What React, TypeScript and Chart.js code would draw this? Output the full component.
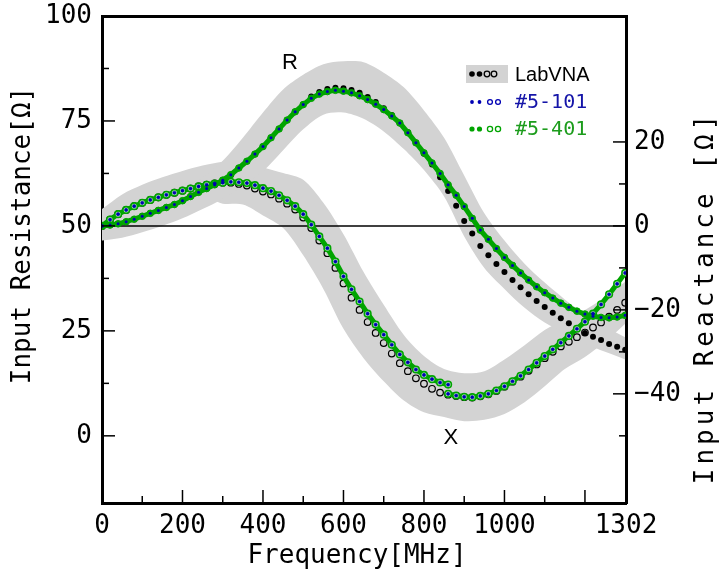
import React, { useEffect, useRef } from 'react';
import { Chart, registerables } from 'chart.js';

Chart.register(...registerables);

// ---- data ----
const freq = [0, 20, 40, 60, 80, 100, 120, 140, 160, 180, 200, 220, 240, 260, 280, 300, 320, 340, 360, 380, 400, 420, 440, 460, 480, 500, 520, 540, 560, 580, 600, 620, 640, 660, 680, 700, 720, 740, 760, 780, 800, 820, 840, 860, 880, 900, 920, 940, 960, 980, 1000, 1020, 1040, 1060, 1080, 1100, 1120, 1140, 1160, 1180, 1200, 1220, 1240, 1260, 1280, 1300];

// Input resistance [Ohm]
const rLab = [50.0, 50.2, 50.5, 51.0, 51.6, 52.3, 53.0, 53.7, 54.4, 55.1, 56.0, 57.0, 58.0, 58.9, 59.8, 60.9, 62.2, 63.8, 65.4, 67.1, 68.9, 71.0, 73.1, 75.2, 77.2, 78.9, 80.8, 81.9, 82.6, 82.9, 82.8, 82.4, 81.7, 80.7, 79.5, 78.0, 76.4, 74.6, 72.3, 69.8, 67.2, 64.6, 61.6, 58.3, 54.8, 51.2, 48.2, 45.2, 43.0, 40.9, 39.0, 37.1, 35.4, 33.7, 32.1, 30.7, 29.3, 28.0, 26.8, 25.6, 24.5, 23.6, 22.8, 21.9, 21.2, 20.5];
const r101 = [50.0, 50.2, 50.5, 51.0, 51.6, 52.3, 53.0, 53.7, 54.4, 55.1, 56.0, 57.0, 58.0, 58.9, 59.8, 60.9, 62.2, 63.8, 65.4, 67.1, 68.9, 71.0, 73.1, 75.2, 77.2, 78.9, 80.4, 81.4, 82.0, 82.3, 82.1, 81.7, 81.0, 80.1, 79.0, 77.7, 76.2, 74.5, 72.2, 69.8, 67.4, 65.0, 62.5, 59.8, 57.3, 54.6, 51.8, 49.0, 46.8, 44.6, 42.5, 40.6, 38.8, 37.1, 35.5, 34.1, 32.8, 31.6, 30.6, 29.7, 29.0, 28.5, 28.2, 28.1, 28.3, 28.7];
const r401 = [50.0, 50.2, 50.5, 51.0, 51.6, 52.3, 53.0, 53.7, 54.4, 55.1, 56.0, 57.0, 58.0, 58.9, 59.8, 60.9, 62.2, 63.8, 65.4, 67.1, 68.9, 71.0, 73.1, 75.2, 77.2, 78.9, 80.4, 81.4, 82.0, 82.3, 82.1, 81.7, 81.0, 80.1, 79.0, 77.7, 76.2, 74.5, 72.2, 69.8, 67.4, 65.0, 62.5, 59.8, 57.3, 54.6, 51.8, 49.0, 46.8, 44.6, 42.5, 40.6, 38.8, 37.1, 35.5, 34.1, 32.8, 31.6, 30.6, 29.7, 29.0, 28.5, 28.2, 28.1, 28.3, 28.7];

// Input reactance [Ohm]
const xLab = [0.0, 1.5, 2.8, 3.8, 4.7, 5.5, 6.2, 6.8, 7.4, 7.9, 8.4, 8.9, 9.4, 9.8, 10.1, 10.3, 10.3, 10.0, 9.6, 8.9, 8.2, 7.5, 6.5, 5.3, 3.9, 2.0, -0.5, -3.5, -6.5, -10.0, -13.7, -17.1, -20.0, -22.9, -25.5, -27.9, -30.4, -32.7, -34.6, -36.3, -37.6, -38.8, -39.7, -40.2, -40.5, -40.8, -40.9, -40.6, -40.1, -39.3, -38.3, -37.1, -35.9, -34.5, -33.0, -31.5, -30.0, -28.7, -27.6, -26.5, -25.4, -24.2, -23.0, -21.6, -20.0, -18.3];
// devices: first sweep (0..860 MHz) and second sweep (860..1300 MHz)
const x101Low = [0.0, 1.5, 2.8, 3.8, 4.7, 5.5, 6.2, 6.8, 7.4, 7.9, 8.4, 8.9, 9.4, 9.8, 10.1, 10.3, 10.5, 10.4, 10.2, 9.7, 9.0, 8.3, 7.3, 6.1, 4.7, 2.8, 0.3, -2.5, -5.3, -8.5, -12.0, -15.1, -18.0, -20.9, -23.5, -25.9, -28.3, -30.6, -32.5, -34.2, -35.5, -36.5, -37.3, -37.8];
const x101High = [-40.0, -40.4, -40.7, -40.8, -40.5, -40.0, -39.2, -38.2, -37.0, -35.7, -34.2, -32.6, -31.0, -29.4, -27.8, -26.2, -24.5, -22.8, -20.9, -18.7, -16.3, -13.8, -11.2];
const x401Low = [0.0, 1.5, 2.8, 3.8, 4.7, 5.5, 6.2, 6.8, 7.4, 7.9, 8.4, 8.9, 9.4, 9.8, 10.1, 10.3, 10.5, 10.4, 10.2, 9.7, 9.0, 8.3, 7.3, 6.1, 4.7, 2.8, 0.3, -2.5, -5.3, -8.5, -12.0, -15.1, -18.0, -20.9, -23.5, -25.9, -28.3, -30.6, -32.5, -34.2, -35.5, -36.5, -37.3, -37.8];
const x401High = [-40.0, -40.4, -40.7, -40.8, -40.5, -40.0, -39.2, -38.2, -37.0, -35.7, -34.2, -32.6, -31.0, -29.4, -27.8, -26.2, -24.5, -22.8, -20.9, -18.7, -16.3, -13.8, -11.2];

// LabVNA uncertainty bands
const bandFreq = [0, 50, 100, 150, 200, 250, 300, 350, 400, 450, 500, 550, 600, 650, 700, 750, 800, 850, 900, 950, 1000, 1050, 1100, 1150, 1200, 1250, 1300];
const rBandHi = [52.0, 52.5, 54.0, 56.0, 58.5, 61.5, 65.5, 71.0, 77.0, 82.5, 86.0, 88.5, 89.2, 89.0, 86.5, 83.0, 77.5, 71.0, 62.0, 53.0, 46.5, 41.0, 36.5, 32.5, 29.0, 26.0, 23.5];
const rBandLo = [46.5, 47.2, 48.5, 50.0, 51.8, 54.0, 56.5, 59.5, 63.0, 68.0, 73.0, 76.5, 77.0, 75.5, 72.5, 68.3, 63.3, 57.0, 47.5, 40.0, 35.0, 30.5, 27.0, 24.5, 22.0, 20.0, 18.2];
const xBandHi = [4.0, 7.5, 9.8, 11.6, 13.1, 14.4, 15.3, 15.5, 14.0, 12.6, 11.0, 5.5, -2.0, -11.0, -18.8, -26.0, -31.0, -34.1, -35.1, -34.6, -31.8, -28.4, -24.8, -22.3, -20.0, -17.0, -13.3];
const xBandLo = [-3.5, 1.5, 3.8, 5.4, 6.6, 7.0, 5.3, 5.1, 2.5, -0.5, -7.0, -15.0, -24.5, -31.5, -37.0, -41.6, -44.4, -45.5, -46.5, -46.2, -44.8, -42.0, -38.2, -34.1, -31.2, -27.6, -23.3];

// axes
const xLabelValues = [0, 200, 400, 600, 800, 1000, 1302];
const xMajorTicks = [0, 200, 400, 600, 800, 1000, 1200];
const xMinorTicks = [100, 300, 500, 700, 900, 1100];
const yLabelValues = [0, 25, 50, 75, 100];
const yMinorTicks = [12.5, 37.5, 62.5, 87.5];
const y2LabelValues = [-40, -20, 0, 20];
const y2MinorTicks = [-50, -30, -10, 10];
const zeroLineFreq = [0, 1302];
const zeroLineVal = [0, 0];

const legendItems = ['LabVNA', '#5-101', '#5-401'];
const xTitle = 'Frequency[MHz]';
const yTitle = 'Input Resistance[Ω]';
const y2Title = 'Input Reactance [Ω]';

const MONO = "'DejaVu Sans Mono', monospace";
const SANS = "'Liberation Sans', Arial, sans-serif";
const GREEN = '#00a400';
const BLUE = '#0000b4';
const GRAY = '#d3d3d3';

const pts = (xs: number[], ys: number[]) => ys.map((y, i) => ({ x: xs[i], y }));

const overlayPlugin = {
  id: 'overlay',
  afterDraw(chart: any) {
    const { ctx, chartArea: a, scales } = chart;
    const sx = scales.x;
    const sy = scales.y;
    const sy2 = scales.y2;
    ctx.save();
    ctx.strokeStyle = '#000';
    ctx.lineWidth = 1.5;
    const seg = (x1: number, y1: number, x2: number, y2: number) => {
      ctx.beginPath();
      ctx.moveTo(x1, y1);
      ctx.lineTo(x2, y2);
      ctx.stroke();
    };
    xMajorTicks.forEach((v) => { const p = sx.getPixelForValue(v); seg(p, a.bottom, p, a.bottom - 13); });
    xMinorTicks.forEach((v) => { const p = sx.getPixelForValue(v); seg(p, a.bottom, p, a.bottom - 7); });
    yLabelValues.forEach((v) => { const p = sy.getPixelForValue(v); seg(a.left, p, a.left + 13, p); });
    yMinorTicks.forEach((v) => { const p = sy.getPixelForValue(v); seg(a.left, p, a.left + 7, p); });
    y2LabelValues.forEach((v) => { const p = sy2.getPixelForValue(v); seg(a.right, p, a.right - 13, p); });
    y2MinorTicks.forEach((v) => { const p = sy2.getPixelForValue(v); seg(a.right, p, a.right - 7, p); });

    // axis titles
    ctx.fillStyle = '#000';
    ctx.font = `26px ${MONO}`;
    ctx.textAlign = 'center';
    ctx.textBaseline = 'middle';
    ctx.fillText(xTitle, (a.left + a.right) / 2 - 7, 556);
    ctx.save();
    ctx.translate(23, (a.top + a.bottom) / 2 - 24);
    ctx.rotate(-Math.PI / 2);
    ctx.fillText(yTitle, 0, 0);
    ctx.restore();
    ctx.save();
    ctx.translate(706, (a.top + a.bottom) / 2 + 40);
    ctx.rotate(-Math.PI / 2);
    (ctx as any).letterSpacing = '4px';
    ctx.fillText(y2Title, 2, 0);
    (ctx as any).letterSpacing = '0px';
    ctx.restore();

    // curve labels
    ctx.font = `22px ${SANS}`;
    ctx.fillText('R', sx.getPixelForValue(467), sy.getPixelForValue(88.8));
    ctx.fillText('X', sx.getPixelForValue(867), sy.getPixelForValue(-0.5));

    // legend
    const lx = a.right - 160;
    const rows = [a.top + 58, a.top + 86, a.top + 113];
    ctx.fillStyle = GRAY;
    ctx.fillRect(lx, rows[0] - 9, 42, 18);
    const dot = (x: number, y: number, r: number, color: string, filled: boolean) => {
      ctx.beginPath();
      ctx.arc(x, y, r, 0, Math.PI * 2);
      if (filled) { ctx.fillStyle = color; ctx.fill(); }
      else { ctx.strokeStyle = color; ctx.lineWidth = 1.3; ctx.stroke(); }
    };
    const cols = ['#000', BLUE, GREEN];
    const rFill = [2.8, 1.9, 2.6];
    const rOpen = [2.8, 2.4, 2.6];
    rows.forEach((ry, i) => {
      dot(lx + 6, ry, rFill[i], cols[i], true);
      dot(lx + 13.5, ry, rFill[i], cols[i], true);
      dot(lx + (i === 0 ? 21 : 24), ry, rOpen[i], cols[i], false);
      dot(lx + (i === 0 ? 28 : 32), ry, rOpen[i], cols[i], false);
    });
    ctx.textAlign = 'left';
    ctx.fillStyle = '#000';
    ctx.font = `20px ${SANS}`;
    ctx.fillText(legendItems[0], lx + 49, rows[0] + 1);
    ctx.font = `20px ${MONO}`;
    ctx.fillStyle = '#1414a8';
    ctx.fillText(legendItems[1], lx + 49, rows[1] + 1);
    ctx.fillStyle = '#1c9c1c';
    ctx.fillText(legendItems[2], lx + 49, rows[2] + 1);
    ctx.restore();
  },
};

const noPad = (s: any) => {
  s.paddingTop = 0;
  s.paddingBottom = 0;
  s.paddingLeft = 0;
  s.paddingRight = 0;
};

export default function App() {
  const ref = useRef<HTMLCanvasElement>(null);
  useEffect(() => {
    if (!ref.current) return;
    const tickFont = { family: MONO, size: 26 };
    const hiddenGrid = { display: false, drawTicks: false };
    const border = { display: true, color: '#000', width: 3 };
    const chart = new Chart(ref.current, {
      type: 'line',
      data: {
        datasets: [
          // top-most first (lower order drawn on top)
          { label: '#5-101 R', data: pts(freq, r101), yAxisID: 'y', order: 1, showLine: false, pointRadius: 1.5, pointBackgroundColor: BLUE, pointBorderWidth: 0, borderColor: BLUE },
          { label: '#5-101 X low', data: pts(freq.slice(0, 44), x101Low), yAxisID: 'y2', order: 2, showLine: false, pointRadius: 1.6, pointBackgroundColor: BLUE, pointBorderColor: BLUE, pointBorderWidth: 0.6, borderColor: BLUE },
          { label: '#5-101 X high', data: pts(freq.slice(43), x101High), yAxisID: 'y2', order: 3, showLine: false, pointRadius: 1.6, pointBackgroundColor: BLUE, pointBorderColor: BLUE, pointBorderWidth: 0.6, borderColor: BLUE },
          { label: '#5-401 R', data: pts(freq, r401), yAxisID: 'y', order: 4, borderColor: GREEN, borderWidth: 5, pointRadius: 3.3, pointBackgroundColor: GREEN, pointBorderColor: GREEN, pointBorderWidth: 1 },
          { label: '#5-401 X low', data: pts(freq.slice(0, 44), x401Low), yAxisID: 'y2', order: 5, borderColor: GREEN, borderWidth: 5, pointRadius: 3.3, pointBackgroundColor: 'rgba(200,240,200,0.9)', pointBorderColor: GREEN, pointBorderWidth: 1.6 },
          { label: '#5-401 X high', data: pts(freq.slice(43), x401High), yAxisID: 'y2', order: 6, borderColor: GREEN, borderWidth: 5, pointRadius: 3.3, pointBackgroundColor: 'rgba(200,240,200,0.9)', pointBorderColor: GREEN, pointBorderWidth: 1.6 },
          { label: 'LabVNA R', data: pts(freq, rLab), yAxisID: 'y', order: 7, showLine: false, pointRadius: 3, pointBackgroundColor: '#000', pointBorderWidth: 0, borderColor: '#000' },
          { label: 'LabVNA X', data: pts(freq, xLab), yAxisID: 'y2', order: 8, showLine: false, pointRadius: 3.3, pointBackgroundColor: 'rgba(255,255,255,0)', pointBorderColor: '#000', pointBorderWidth: 1.2, borderColor: '#000' },
          { label: 'zero', data: pts(zeroLineFreq, zeroLineVal), yAxisID: 'y2', order: 9, borderColor: '#000', borderWidth: 1.5, pointRadius: 0 },
          { label: 'R band hi', data: pts(bandFreq, rBandHi), yAxisID: 'y', order: 10, borderWidth: 0, borderColor: GRAY, pointRadius: 0, backgroundColor: GRAY, fill: '+1', tension: 0.3 },
          { label: 'R band lo', data: pts(bandFreq, rBandLo), yAxisID: 'y', order: 11, borderWidth: 0, borderColor: GRAY, pointRadius: 0, tension: 0.3 },
          { label: 'X band hi', data: pts(bandFreq, xBandHi), yAxisID: 'y2', order: 12, borderWidth: 0, borderColor: GRAY, pointRadius: 0, backgroundColor: GRAY, fill: '+1', tension: 0.3 },
          { label: 'X band lo', data: pts(bandFreq, xBandLo), yAxisID: 'y2', order: 13, borderWidth: 0, borderColor: GRAY, pointRadius: 0, tension: 0.3 },
        ] as any,
      },
      options: {
        responsive: false,
        animation: false,
        devicePixelRatio: 1,
        layout: { padding: 0 },
        plugins: { legend: { display: false }, tooltip: { enabled: false } },
        scales: {
          x: {
            type: 'linear', position: 'bottom', min: 0, max: 1302,
            afterBuildTicks: (s: any) => { s.ticks = xLabelValues.map((v) => ({ value: v })); },
            afterFit: (s: any) => { s.height = 75; noPad(s); },
            ticks: { autoSkip: false, maxRotation: 0, padding: 8, font: tickFont, color: '#000', callback: (v: any) => String(v) },
            grid: hiddenGrid, border,
          },
          xTop: {
            type: 'linear', position: 'top', min: 0, max: 1302,
            afterFit: (s: any) => { s.height = 16; noPad(s); },
            ticks: { display: false }, grid: hiddenGrid, border,
          },
          y: {
            type: 'linear', position: 'left', min: -16, max: 100,
            afterBuildTicks: (s: any) => { s.ticks = yLabelValues.map((v) => ({ value: v })); },
            afterFit: (s: any) => { s.width = 102; noPad(s); },
            ticks: { autoSkip: false, padding: 10, font: tickFont, color: '#000', callback: (v: any) => String(v) },
            grid: hiddenGrid, border,
          },
          y2: {
            type: 'linear', position: 'right', min: -66, max: 50,
            afterBuildTicks: (s: any) => { s.ticks = y2LabelValues.map((v) => ({ value: v })); },
            afterFit: (s: any) => { s.width = 95; noPad(s); },
            ticks: { autoSkip: false, padding: 8, font: tickFont, color: '#000', callback: (v: any) => (v < 0 ? '−' + Math.abs(v) : String(v)) },
            grid: hiddenGrid, border,
          },
        },
      } as any,
      plugins: [overlayPlugin],
    });
    return () => chart.destroy();
  }, []);
  return (
    <div style={{ position: 'absolute', left: 0, top: 0, width: 721, height: 578, background: '#fff' }}>
      <canvas ref={ref} width={721} height={578} style={{ display: 'block' }} />
    </div>
  );
}
